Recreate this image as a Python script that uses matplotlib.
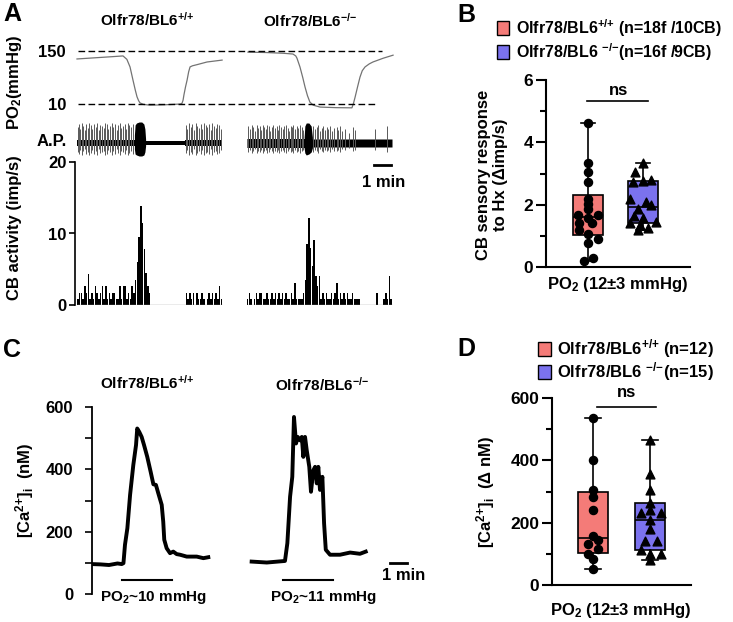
import numpy as np
import matplotlib.pyplot as plt
from matplotlib.patches import Rectangle

plt.rcParams.update({
    'font.family': ['Liberation Sans', 'DejaVu Sans'],
    'font.weight': 'bold',
    'mathtext.fontset': 'custom',
    'mathtext.rm': 'Liberation Sans:bold',
    'mathtext.it': 'Liberation Sans:bold',
    'mathtext.bf': 'Liberation Sans:bold',
    'mathtext.default': 'rm',
})

# ---------------- data ----------------
WT = 'Olfr78/BL6$^{{+}/{+}}$'
KO = 'Olfr78/BL6$^{{-}/{-}}$'
KO_SP = 'Olfr78/BL6 $^{{-}/{-}}$'
CA = '[Ca$^{2{+}}$]$_i$'

# A: PO2 traces (min, mmHg)
po2_wt_t = [0.0, 1.0, 2.0, 2.63, 2.85, 3.03, 3.2, 3.33, 3.43, 3.52, 3.6, 3.8, 4.17,
            5.0, 5.9, 6.0, 6.06, 6.11, 6.2, 6.29, 6.38, 6.46, 6.6, 6.86, 7.43, 8.29]
po2_wt = [129, 132, 135, 137, 128, 108, 73, 47, 29, 19, 13, 9, 7,
          8, 10, 12, 20, 34, 55, 73, 95, 108, 111, 114, 121, 126]
po2_ko_t = [9.77, 10.8, 11.8, 12.34, 12.5, 12.57, 12.74, 12.9, 13.03, 13.17, 13.31, 13.5,
            13.89, 14.8, 15.71, 15.8, 15.89, 16.03, 16.17, 16.3, 16.46, 16.7, 16.91, 17.5, 18.06]
po2_ko = [147, 146, 144, 142, 137, 131, 108, 80, 55, 32, 15, 7,
          2, 0.5, 0, 12, 28, 55, 81, 98, 108, 116, 121, 131, 139]

# A: action potential spikes (time min, up, down) in trace units
ap_wt_spikes = [
    (0.04, 16, 9), (0.12, 19, 11), (0.19, 14, 7), (0.27, 20, 12), (0.36, 17, 8), (0.44, 13, 6),
    (0.52, 19, 11), (0.61, 15, 9), (0.70, 20, 12), (0.79, 18, 10), (0.88, 14, 7), (0.97, 19, 11),
    (1.06, 16, 8), (1.16, 20, 12), (1.25, 13, 6), (1.33, 18, 10), (1.43, 17, 9), (1.52, 15, 8),
    (1.61, 20, 12), (1.70, 19, 11), (1.80, 14, 7), (1.89, 17, 9), (1.98, 20, 12), (2.07, 16, 8),
    (2.17, 19, 11), (2.26, 13, 6), (2.35, 18, 10), (2.45, 20, 12), (2.54, 15, 8), (2.63, 17, 9),
    (2.72, 19, 11), (2.82, 14, 7), (2.91, 20, 12), (3.00, 18, 10), (3.10, 16, 8), (3.19, 19, 11),
    (6.22, 18, 10), (6.31, 14, 7), (6.40, 20, 12), (6.50, 16, 9), (6.59, 19, 11), (6.68, 13, 6),
    (6.78, 20, 12), (6.87, 17, 10), (6.97, 15, 8), (7.06, 19, 11), (7.16, 14, 7), (7.25, 20, 12),
    (7.35, 18, 10), (7.44, 16, 9), (7.54, 19, 11), (7.63, 13, 6), (7.73, 20, 12), (7.82, 17, 9),
    (7.92, 15, 8), (8.01, 19, 11), (8.11, 18, 10), (8.20, 14, 7),
]
ap_ko_spikes = [
    (9.79, 17, 9), (9.88, 14, 7), (9.98, 18, 10), (10.08, 16, 8), (10.17, 12, 6), (10.27, 18, 10),
    (10.36, 15, 8), (10.43, 17, 9), (10.50, 13, 7), (10.60, 18, 10), (10.69, 16, 8), (10.78, 14, 7),
    (10.87, 18, 10), (10.95, 17, 9), (11.03, 12, 6), (11.13, 16, 8), (11.22, 18, 10), (11.31, 15, 8),
    (11.41, 17, 9), (11.48, 13, 7), (11.56, 18, 10), (11.66, 16, 8), (11.75, 14, 7), (11.85, 17, 9),
    (11.94, 18, 10), (12.03, 15, 8), (12.13, 12, 6), (12.20, 17, 9), (12.27, 16, 8), (12.37, 18, 10),
    (12.46, 14, 7), (12.56, 17, 9), (12.65, 15, 8), (12.75, 18, 10), (12.84, 16, 8), (12.93, 13, 7),
    (13.50, 17, 9), (13.60, 14, 7), (13.70, 16, 8), (13.79, 18, 10), (13.88, 12, 6), (13.98, 15, 8),
    (14.08, 17, 9), (14.17, 13, 7), (14.27, 16, 8), (14.36, 14, 7), (14.45, 17, 9), (14.55, 12, 6),
    (14.70, 15, 8), (14.84, 16, 8), (14.93, 13, 7), (15.03, 17, 9), (15.17, 12, 6), (15.31, 14, 7),
    (15.55, 10, 5), (15.79, 16, 8), (15.89, 13, 7), (17.03, 14, 7), (17.70, 17, 9),
]
ap_wt_band_t = [0.0, 3.3, 3.3, 6.2, 6.2, 8.29]
ap_wt_band = [3.0, 3.0, 1.8, 1.8, 3.0, 3.0]
ap_ko_band_t = [9.71, 13.0, 13.45, 18.0]
ap_ko_band = [4.5, 4.5, 4.0, 4.0]
burst_wt_t = [3.28, 3.32, 3.4, 3.55, 3.7, 3.82, 3.88, 3.92]
burst_wt_hi = [8, 18, 20, 21, 21, 19, 14, 4]
burst_wt_lo = [-6, -11, -12, -13, -13, -12, -9, -3]
burst_ko_t = [12.98, 13.02, 13.1, 13.25, 13.38, 13.45]
burst_ko_hi = [6, 17, 20, 20, 17, 6]
burst_ko_lo = [-5, -10, -12, -11, -9, -5]

# A: CB activity histograms (imp/s), 0.1-min bins
hist_wt_start, hist_ko_start, bin_w = 0.0, 9.7, 0.1
hist_wt = [0.85, 1.7, 1.7, 0.85, 2.6, 1.7, 4.4, 0.85, 1.7, 0.85,
           2.6, 1.7, 0.85, 1.7, 2.6, 0.85, 2.6, 0.85, 1.7, 0.85,
           1.7, 1.7, 0.85, 0.85, 2.6, 0.85, 2.6, 2.6, 0.85, 1.7,
           0.85, 2.6, 1.7, 3.5, 6.0, 9.5, 13.8, 11.5, 7.8, 4.5,
           2.6, 1.7, 0, 0, 0, 0, 0, 0, 0, 0,
           0, 0, 0, 0, 0, 0, 0, 0, 0, 0,
           0, 0, 1.7, 0.85, 1.7, 0.85, 1.7, 0, 1.7, 0.85,
           0.85, 1.7, 0.85, 0, 0.85, 1.7, 0.85, 1.7, 0.85, 1.7,
           0.85, 2.6, 0.85]
hist_ko = [0.85, 1.7, 0.85, 0, 0.85, 1.7, 0.85, 1.7, 1.7, 0.85,
           0.85, 1.7, 0.85, 0.85, 1.7, 0.85, 1.7, 0.85, 1.7, 0.85,
           1.7, 0.85, 1.7, 0.85, 0.85, 1.7, 0.85, 3.1, 0.85, 0.85,
           0.85, 0.85, 1.7, 3.5, 8.5, 12.1, 8.0, 5.5, 9.1, 4.0,
           2.6, 4.0, 0.85, 1.7, 0.85, 1.7, 0.85, 0.85, 1.7, 0.85,
           1.7, 3.1, 0.85, 1.7, 0.85, 1.7, 0.85, 1.7, 0.85, 0.85,
           1.7, 0.85, 0.85, 0.85, 0.85, 0, 0, 0, 0, 0,
           0, 0, 0, 0, 1.7, 0, 0, 0, 0.85, 1.7,
           0.85, 4.1, 0.85]

# B: CB sensory response to Hx (delta imp/s)
b_wt = [4.62, 3.35, 3.05, 2.73, 2.17, 2.02, 1.85, 1.66, 1.66, 1.58,
        1.42, 1.42, 1.2, 1.06, 0.9, 0.77, 0.29, 0.18]
b_wt_dx = [0, 0, 0, 0, 0, 0, 0, -0.18, 0.19, 0, -0.17, 0.07, -0.17, 0, 0.18, 0, 0.09, -0.08]
b_ko = [3.33, 3.04, 2.78, 2.76, 2.74, 2.17, 2.10, 1.98, 1.85, 1.63,
        1.56, 1.45, 1.40, 1.34, 1.24, 1.18]
b_ko_dx = [0, -0.14, 0.15, 0, -0.18, -0.24, 0.06, 0.15, -0.09, -0.17, 0, 0.24, -0.24, -0.06, 0.09, -0.09]

# C: [Ca2+]i traces (min, nM)
ca_wt_t = [0.0, 0.5, 1.0, 1.5, 1.75, 1.85, 1.94, 2.08, 2.24, 2.43, 2.59, 2.66, 2.78, 2.92,
           3.06, 3.25, 3.45, 3.61, 3.76, 3.9, 4.1, 4.19, 4.25, 4.39, 4.59, 4.78, 4.98,
           5.18, 5.57, 6.16, 6.55, 6.84]
ca_wt = [96, 95, 93, 98, 96, 99, 158, 211, 318, 414, 478, 531, 520, 504,
         478, 440, 392, 352, 350, 323, 286, 232, 174, 147, 131, 136, 128,
         126, 120, 120, 115, 118]
ca_ko_t = [9.39, 10.28, 11.35, 11.49, 11.65, 11.78, 11.88, 12.0, 12.1, 12.24, 12.34, 12.43,
           12.53, 12.63, 12.78, 12.88, 13.02, 13.12, 13.22, 13.31, 13.41, 13.55, 13.65,
           13.75, 14.0, 14.59, 15.18, 15.76, 16.1]
ca_ko = [104, 101, 106, 163, 312, 376, 568, 483, 504, 493, 504, 440,
         504, 461, 408, 328, 397, 408, 355, 408, 334, 376, 227,
         142, 126, 126, 133, 129, 136]
stim_wt = (1.75, 4.69)
stim_ko = (11.25, 14.19)

# D: delta [Ca2+]i (nM)
d_wt = [537, 400, 304, 282, 242, 156, 145, 130, 117, 100, 84, 52]
d_wt_dx = [0, 0, 0, 0, 0, 0, 0.09, -0.09, 0.09, -0.09, 0, 0]
d_ko = [464, 357, 304, 263, 240, 231, 231, 207, 181, 140, 140, 113, 100, 100, 79]
d_ko_dx = [0, 0, 0, 0, 0, -0.15, 0.19, 0, 0, -0.08, 0.13, -0.16, 0, 0.19, 0]

RED = '#F47B78'
BLUE = '#7B72EE'

# ---------------- layout helpers (pixel coordinates) ----------------
W, H = 733.0, 622.0
fig = plt.figure(figsize=(W / 100, H / 100), dpi=100)


def rect(x0, y0, x1, y1):
    return [x0 / W, 1 - y1 / H, (x1 - x0) / W, (y1 - y0) / H]


def ftext(x, y, s, **kw):
    kw.setdefault('ha', 'center')
    kw.setdefault('va', 'center')
    fig.text(x / W, 1 - y / H, s, **kw)


def fpatch(x0, y0, x1, y1, color):
    fig.patches.append(Rectangle((x0 / W, 1 - y1 / H), (x1 - x0) / W, (y1 - y0) / H,
                                 transform=fig.transFigure, facecolor=color,
                                 edgecolor='black', lw=1.0))


def bold_ticks(ax):
    for lab in ax.get_yticklabels():
        lab.set_fontweight('bold')


# ---------------- panel A ----------------
A_XLIM = (-0.114, 18.171)
ftext(3, 14, 'A', ha='left', fontsize=18)
ftext(147, 20, WT, fontsize=11)
ftext(310, 21, KO, fontsize=11)

ax_po2 = fig.add_axes(rect(75, 44, 395, 112))
ax_po2.plot(po2_wt_t, po2_wt, color='0.45', lw=0.9)
ax_po2.plot(po2_ko_t, po2_ko, color='0.45', lw=0.9)
ax_po2.hlines(150, 0.06, 17.4, colors='black', lw=1.0, linestyles=(0, (4.8, 2.4)))
ax_po2.hlines(10, 0.06, 17.2, colors='black', lw=1.0, linestyles=(0, (4.8, 2.4)))
ax_po2.set_xlim(*A_XLIM)
ax_po2.set_ylim(-11, 168.5)
ax_po2.set_xticks([])
ax_po2.set_yticks([10, 150])
ax_po2.tick_params(axis='y', length=0, pad=6.5, labelsize=12)
bold_ticks(ax_po2)
for s in ax_po2.spines.values():
    s.set_visible(False)
ftext(15, 82, 'PO$_2$(mmHg)', rotation=90, fontsize=12)

ax_ap = fig.add_axes(rect(75, 118, 395, 160))
for spikes in (ap_wt_spikes, ap_ko_spikes):
    t = [s[0] for s in spikes]
    ax_ap.vlines(t, [-s[2] for s in spikes], [s[1] for s in spikes], colors='0.35', lw=0.7)
ax_ap.fill_between(ap_wt_band_t, [-v for v in ap_wt_band], ap_wt_band, color='black', lw=0)
ax_ap.fill_between(ap_ko_band_t, [-v for v in ap_ko_band], ap_ko_band, color='black', lw=0)
ax_ap.fill_between(burst_wt_t, burst_wt_lo, burst_wt_hi, color='black', lw=0)
ax_ap.fill_between(burst_ko_t, burst_ko_lo, burst_ko_hi, color='black', lw=0)
ax_ap.set_xlim(*A_XLIM)
ax_ap.set_ylim(-17, 25)
ax_ap.axis('off')
ftext(67, 142, 'A.P.', ha='right', fontsize=12)

ax_h = fig.add_axes(rect(75, 162, 395, 305))
x_wt = hist_wt_start + bin_w * (np.arange(len(hist_wt)) + 0.5)
x_ko = hist_ko_start + bin_w * (np.arange(len(hist_ko)) + 0.5)
ax_h.hlines(0, 0.0, 8.29, colors='0.6', lw=1.0)
ax_h.hlines(0, 9.71, 18.0, colors='0.6', lw=1.0)
ax_h.bar(x_wt, hist_wt, width=0.075, color='black', lw=0)
ax_h.bar(x_ko, hist_ko, width=0.075, color='black', lw=0)
ax_h.set_xlim(*A_XLIM)
ax_h.set_ylim(0, 20)
ax_h.set_xticks([])
ax_h.set_yticks([0, 10, 20])
ax_h.tick_params(axis='y', length=4, width=1.2, pad=2, labelsize=12)
bold_ticks(ax_h)
for s in ('top', 'right', 'bottom'):
    ax_h.spines[s].set_visible(False)
ax_h.spines['left'].set_linewidth(1.2)
ax_h.plot([16.95, 17.95], [19.6, 19.6], color='black', lw=2, clip_on=False)
ax_h.text(18.74, 17.2, '1 min', ha='right', va='center', fontsize=12, clip_on=False)
ftext(15, 228, 'CB activity (imp/s)', rotation=90, fontsize=12)


# ---------------- box plot helper ----------------
def box_stats(vals):
    q1, med, q3 = np.percentile(vals, [25, 50, 75], method='weibull')
    return dict(med=med, q1=q1, q3=q3, whislo=min(vals), whishi=max(vals), fliers=[])


def box_panel(ax, wt, wt_dx, ko, ko_dx):
    bp = ax.bxp([box_stats(wt), box_stats(ko)], positions=[1, 2], widths=0.53,
                patch_artist=True, showfliers=False, capwidths=0.27,
                boxprops=dict(edgecolor='black', lw=1.2),
                medianprops=dict(color='black', lw=1.2),
                whiskerprops=dict(color='black', lw=1.2),
                capprops=dict(color='black', lw=1.2), manage_ticks=False)
    for patch, c in zip(bp['boxes'], (RED, BLUE)):
        patch.set_facecolor(c)
    ax.scatter(1 + np.array(wt_dx), wt, s=34, marker='o', color='black', zorder=5)
    ax.scatter(2 + np.array(ko_dx), ko, s=40, marker='^', color='black', zorder=5)
    for s in ('top', 'right'):
        ax.spines[s].set_visible(False)
    ax.spines['left'].set_linewidth(1.5)
    ax.spines['bottom'].set_linewidth(1.5)
    ax.set_xticks([])
    ax.tick_params(axis='y', which='major', length=7, width=1.5, pad=2, labelsize=12.5)
    ax.tick_params(axis='y', which='minor', length=4, width=1.5)


# ---------------- panel B ----------------
ftext(457, 15, 'B', ha='left', fontsize=18)
fpatch(497, 21, 509, 35, RED)
fpatch(497, 45, 509, 59, BLUE)
ftext(516, 28, WT + ' (n=18f /10CB)', ha='left', fontsize=11.5)
ftext(516, 52, KO_SP + '(n=16f /9CB)', ha='left', fontsize=11.5)

ax_b = fig.add_axes(rect(546, 80, 690, 267))
box_panel(ax_b, b_wt, b_wt_dx, b_ko, b_ko_dx)
ax_b.set_xlim(0.236, 2.855)
ax_b.set_ylim(0, 6)
ax_b.set_yticks([0, 2, 4, 6])
ax_b.set_yticks([1, 3, 5], minor=True)
bold_ticks(ax_b)
ax_b.plot([0.98, 2.09], [5.32, 5.32], color='black', lw=1.2, clip_on=False)
ax_b.text(1.55, 5.67, 'ns', ha='center', va='center', fontsize=12)
ftext(492, 175, 'CB sensory response\nto Hx (Δimp/s)', rotation=90, fontsize=12,
      multialignment='center', linespacing=1.1)
ftext(618, 285, 'PO$_2$ (12±3 mmHg)', fontsize=12)

# ---------------- panel C ----------------
ftext(3, 350, 'C', ha='left', fontsize=18)
ftext(147, 383, WT, fontsize=11)
ftext(322, 385, KO, fontsize=11)

ax_c = fig.add_axes(rect(92, 407, 430, 594))
ax_c.plot(ca_wt_t, ca_wt, color='black', lw=2.8, solid_joinstyle='round')
ax_c.plot(ca_ko_t, ca_ko, color='black', lw=2.8, solid_joinstyle='round')
ax_c.plot(stim_wt, [46, 46], color='black', lw=1.5)
ax_c.plot(stim_ko, [46, 46], color='black', lw=1.5)
ax_c.plot([17.53, 18.53], [100, 100], color='black', lw=2, clip_on=False)
ax_c.set_xlim(0, 19.88)
ax_c.set_ylim(0, 600)
ax_c.set_xticks([])
ax_c.set_yticks([0, 200, 400, 600])
ax_c.set_yticks([100, 300, 500], minor=True)
ax_c.tick_params(axis='y', which='both', length=5, width=1.2, pad=8.5, labelsize=12)
bold_ticks(ax_c)
for s in ('top', 'right', 'bottom'):
    ax_c.spines[s].set_visible(False)
ax_c.spines['left'].set_linewidth(1.3)
ftext(153, 597, 'PO$_2$~10 mmHg', fontsize=11)
ftext(323, 597, 'PO$_2$~11 mmHg', fontsize=11)
ftext(404, 576, '1 min', fontsize=12)
ftext(25, 490, CA + '  (nM)', rotation=90, fontsize=12)

# ---------------- panel D ----------------
ftext(457, 349, 'D', ha='left', fontsize=18)
fpatch(538, 342, 551, 356, RED)
fpatch(538, 365, 551, 379, BLUE)
ftext(557, 349, WT + ' (n=12)', ha='left', fontsize=12)
ftext(557, 372, KO_SP + '(n=15)', ha='left', fontsize=12)

ax_d = fig.add_axes(rect(552, 398, 691, 585))
box_panel(ax_d, d_wt, d_wt_dx, d_ko, d_ko_dx)
ax_d.set_xlim(0.28, 2.72)
ax_d.set_ylim(0, 600)
ax_d.set_yticks([0, 200, 400, 600])
ax_d.set_yticks([100, 300, 500], minor=True)
bold_ticks(ax_d)
ax_d.plot([1.07, 2.1], [571, 571], color='black', lw=1.2, clip_on=False)
ax_d.text(1.58, 619, 'ns', ha='center', va='center', fontsize=12, clip_on=False)
ftext(486, 492, CA + '  (Δ nM)', rotation=90, fontsize=12)
ftext(621, 610, 'PO$_2$ (12±3 mmHg)', fontsize=12)

fig.savefig('out.png', dpi=100)
